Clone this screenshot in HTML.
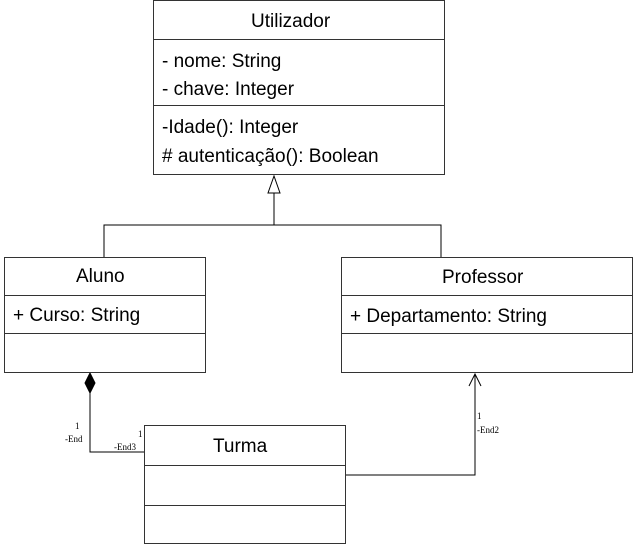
<!DOCTYPE html>
<html><head><style>
body{margin:0;width:640px;height:557px;background:#fff;position:relative;overflow:hidden;font-family:"Liberation Sans",sans-serif;}
.b{position:absolute;border:1px solid #333;box-sizing:border-box;background:#fff}
.s{position:absolute;left:0;right:0;border-top:1px solid #333}
.t{position:absolute;font-size:19px;color:#000;white-space:nowrap}
.sm{position:absolute;font-family:"Liberation Serif",serif;font-size:9px;color:#000}
</style></head><body>
<svg width="640" height="557" style="position:absolute;left:0;top:0">
<g stroke="#000" stroke-width="1" fill="none">
<polyline points="274,193 274,225"/>
<polyline points="104,257 104,225 441,225 441,257"/>
<polygon points="274,176 268,193 280,193" fill="#fff"/>
<polyline points="90,393 90,452 144,452"/>
<polygon points="90,373 85,383 90,393 95,383" fill="#000"/>
<polyline points="345,475 475,475 475,374"/>
<polyline points="469,386 475,374 481,386"/>
</g></svg>
<div class="b" style="left:153px;top:0;width:292px;height:175px">
<div class="s" style="top:38px"></div><div class="s" style="top:104px"></div>
<div class="t" style="left:97px;top:10px">Utilizador</div>
<div class="t" style="left:8px;top:50px">- nome: String</div>
<div class="t" style="left:8px;top:78px">- chave: Integer</div>
<div class="t" style="left:8px;top:116px">-Idade(): Integer</div>
<div class="t" style="left:8px;top:145px"># autenticação(): Boolean</div>
</div>
<div class="b" style="left:4px;top:257px;width:202px;height:116px">
<div class="s" style="top:37px"></div><div class="s" style="top:75px"></div>
<div class="t" style="left:71px;top:8px">Aluno</div>
<div class="t" style="left:8px;top:47px">+ Curso: String</div>
</div>
<div class="b" style="left:341px;top:257px;width:292px;height:116px">
<div class="s" style="top:37px"></div><div class="s" style="top:75px"></div>
<div class="t" style="left:100px;top:9px">Professor</div>
<div class="t" style="left:8px;top:48px">+ Departamento: String</div>
</div>
<div class="b" style="left:144px;top:425px;width:202px;height:119px">
<div class="s" style="top:39px"></div><div class="s" style="top:79px"></div>
<div class="t" style="left:68px;top:10px">Turma</div>
</div>
<div class="sm" style="left:75px;top:421px">1</div>
<div class="sm" style="left:65px;top:434px">-End</div>
<div class="sm" style="left:138px;top:429px">1</div>
<div class="sm" style="left:114px;top:442px">-End3</div>
<div class="sm" style="left:477px;top:411px">1</div>
<div class="sm" style="left:477px;top:425px">-End2</div>
</body></html>
